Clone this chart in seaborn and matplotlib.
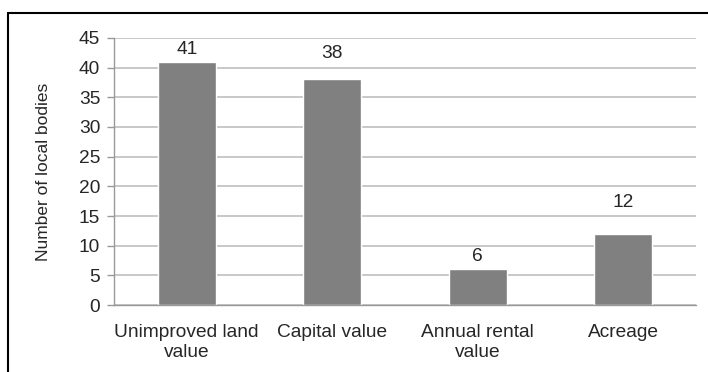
#!/usr/bin/env python3
"""Bar chart: number of local bodies by rating basis."""

import numpy as np
import pandas as pd
import matplotlib
matplotlib.use("Agg")
import matplotlib.pyplot as plt
from matplotlib.lines import Line2D
import seaborn as sns

categories = ["Unimproved land\nvalue", "Capital value", "Annual rental\nvalue", "Acreage"]
counts = [41, 38, 6, 12]
y_ticks = [0, 5, 10, 15, 20, 25, 30, 35, 40, 45]

# label gap above each bar (pixels) - labels were placed by hand in the original
label_gap = [4, 17, 4, 23]

df = pd.DataFrame({"basis": categories, "count": counts})

sns.set_style("white")
plt.rcParams["font.family"] = ["Liberation Sans", "DejaVu Sans"]

fig = plt.figure(figsize=(7.08, 3.72), dpi=100)
ax = fig.add_axes([0.161, 0.180, 0.822, 0.718])

sns.barplot(data=df, x="basis", y="count", order=categories, color="#808080",
            width=0.4, saturation=1, ax=ax)

# value labels
for bar, c, gap in zip(ax.patches, counts, label_gap):
    ax.annotate(str(c), (bar.get_x() + bar.get_width() / 2, bar.get_height()),
                xytext=(0, gap), textcoords="offset pixels",
                ha="center", va="bottom", fontsize=13.8)

ax.set_xlim(-0.5, len(categories) - 0.5)
ax.set_ylim(0, 45)
ax.set_yticks(y_ticks)
ax.yaxis.grid(True, color="#bfbfbf", linewidth=1.2)
ax.set_axisbelow(True)

# Excel-like tick marks between categories
ax.set_xticks(np.arange(-0.5, len(categories)), minor=True)
ax.tick_params(axis="x", which="major", length=0, labelsize=13.8, pad=14)
ax.tick_params(axis="x", which="minor", length=5, color="#999999", width=1)
ax.tick_params(axis="y", length=5, color="#999999", width=1, labelsize=13.8, pad=5, left=True)

for side in ["top", "right"]:
    ax.spines[side].set_visible(False)
for side in ["left", "bottom"]:
    ax.spines[side].set_color("#999999")
    ax.spines[side].set_linewidth(1)

ax.set_xlabel("")
ax.set_ylabel("Number of local bodies", fontsize=12.5, labelpad=20)

# outer frame (top and left only, as cropped in the reference)
fig.add_artist(Line2D([8 / 708, 1], [1 - 13 / 372, 1 - 13 / 372], color="black", linewidth=1.5,
                      transform=fig.transFigure))
fig.add_artist(Line2D([8 / 708, 8 / 708], [0, 1 - 13 / 372], color="black", linewidth=1.5,
                      transform=fig.transFigure))

fig.savefig("out.png", dpi=100)
plt.close(fig)
